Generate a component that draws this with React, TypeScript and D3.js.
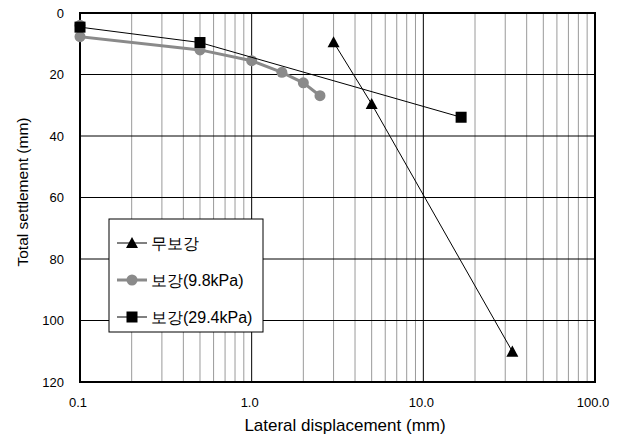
import React from "react";
import * as d3 from "d3";

const seriesNames = ["무보강", "보강(9.8kPa)", "보강(29.4kPa)"];
const unreinforcedX = [3.0, 5.0, 33.0];
const unreinforcedY = [9.5, 29.6, 110.1];
const reinf98X = [0.1, 0.1, 0.5, 1.0, 1.5, 2.0, 2.5];
const reinf98Y = [4.0, 7.7, 12.0, 15.5, 19.3, 22.7, 26.9];
const reinf294X = [0.1, 0.5, 16.6];
const reinf294Y = [4.6, 9.6, 33.9];
const xTicks = [0.1, 1, 10, 100];
const xTickLabels = ["0.1", "1.0", "10.0", "100.0"];
const yTicks = [0, 20, 40, 60, 80, 100, 120];

const W = 625, H = 438;
const L = 80, R = 595, T = 13, B = 382;
const FONT = "'Liberation Sans', Arial, sans-serif";

export default function App() {
  const x = d3.scaleLog().domain([0.1, 100]).range([L, R]);
  const y = d3.scaleLinear().domain([0, 120]).range([T, B]);
  const line = d3.line<[number, number]>().x(d => x(d[0])).y(d => y(d[1]));
  const minor: number[] = [];
  [0.1, 1, 10].forEach(dec => { for (let k = 2; k <= 9; k++) minor.push(dec * k); });
  const s1 = unreinforcedX.map((v, i) => [v, unreinforcedY[i]] as [number, number]);
  const s2 = reinf98X.map((v, i) => [v, reinf98Y[i]] as [number, number]);
  const s3 = reinf294X.map((v, i) => [v, reinf294Y[i]] as [number, number]);
  const tri = (cx: number, cy: number, s = 6) => `M${cx},${cy - s}L${cx + s},${cy + s * 0.85}L${cx - s},${cy + s * 0.85}Z`;
  const gray = "#8a8a8a";
  const legY = [243, 280, 317];
  return (
    <svg width={W} height={H} style={{ position: "absolute", left: 0, top: 0, background: "#fff" }} fontFamily={FONT}>
      <rect x={0} y={0} width={W} height={H} fill="#fff" />
      {minor.map((m, i) => (
        <line key={"m" + i} x1={x(m)} x2={x(m)} y1={T} y2={B} stroke="#9a9a9a" strokeWidth={1} />
      ))}
      {[1, 10].map(v => (
        <line key={"d" + v} x1={x(v)} x2={x(v)} y1={T} y2={B} stroke="#000" strokeWidth={1} />
      ))}
      {yTicks.slice(1, -1).map(v => (
        <line key={"h" + v} x1={L} x2={R} y1={y(v)} y2={y(v)} stroke="#000" strokeWidth={1} />
      ))}
      <rect x={L} y={T} width={R - L} height={B - T} fill="none" stroke="#000" strokeWidth={2} />
      {yTicks.map(v => (
        <text key={"yt" + v} x={64} y={y(v)} dy="0.35em" textAnchor="end" fontSize={13}>{v}</text>
      ))}
      {xTicks.map((v, i) => (
        <text key={"xt" + v} x={x(v) - 2} y={402} dy="0.35em" textAnchor="middle" fontSize={13}>{xTickLabels[i]}</text>
      ))}
      <text x={345} y={431} textAnchor="middle" fontSize={17}>Lateral displacement (mm)</text>
      <text transform={`translate(28,192) rotate(-90)`} textAnchor="middle" fontSize={15.5}>Total settlement (mm)</text>

      <path d={line(s2) || ""} fill="none" stroke={gray} strokeWidth={3} />
      {s2.map((p, i) => <circle key={"c" + i} cx={x(p[0])} cy={y(p[1])} r={5.5} fill={gray} />)}
      <path d={line(s3) || ""} fill="none" stroke="#000" strokeWidth={1} />
      {s3.map((p, i) => <rect key={"s" + i} x={x(p[0]) - 5.5} y={y(p[1]) - 5.5} width={11} height={11} fill="#000" />)}
      <path d={line(s1) || ""} fill="none" stroke="#000" strokeWidth={1} />
      {s1.map((p, i) => <path key={"t" + i} d={tri(x(p[0]), y(p[1]))} fill="#000" />)}

      <rect x={109} y={219} width={154} height={113} fill="#fff" stroke="#000" strokeWidth={1} />
      <line x1={117} x2={147} y1={legY[0]} y2={legY[0]} stroke="#000" strokeWidth={1} />
      <path d={tri(132, legY[0])} fill="#000" />
      <line x1={117} x2={147} y1={legY[1]} y2={legY[1]} stroke={gray} strokeWidth={3} />
      <circle cx={132} cy={legY[1]} r={5.5} fill={gray} />
      <line x1={117} x2={147} y1={legY[2]} y2={legY[2]} stroke="#000" strokeWidth={1} />
      <rect x={126.5} y={legY[2] - 5.5} width={11} height={11} fill="#000" />
      {seriesNames.map((n, i) => (
        <text key={"l" + i} x={151} y={legY[i]} dy="0.35em" fontSize={16}>{n}</text>
      ))}
    </svg>
  );
}
